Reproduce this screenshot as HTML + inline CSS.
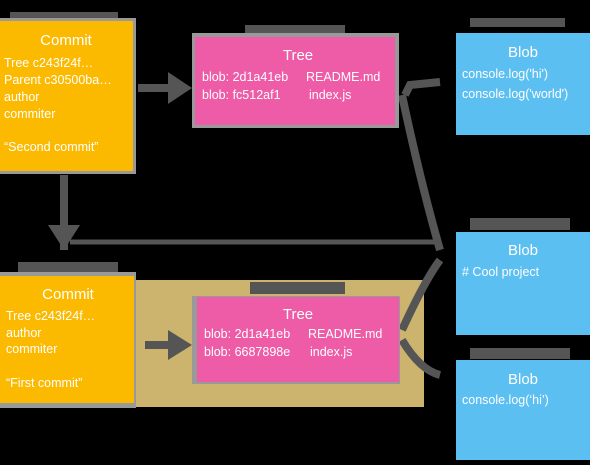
<!DOCTYPE html>
<html><head><meta charset="utf-8"><style>
body{margin:0;background:#000;width:590px;height:460px;overflow:hidden}
svg text{font-family:"Liberation Sans",sans-serif;fill:#fff}
</style></head><body>
<svg width="590" height="460">
<rect x="135" y="280" width="289" height="127" fill="#CDB46E"/>
<g fill="#555">
<rect x="10" y="12" width="108" height="9"/><rect x="245" y="25" width="100" height="8"/>
<rect x="470" y="18" width="95" height="9"/><rect x="470" y="218" width="100" height="12"/>
<rect x="18" y="262" width="100" height="12"/><rect x="250" y="282" width="95" height="12"/>
<rect x="470" y="348" width="100" height="11"/>
</g>
<g stroke="#555" stroke-width="8" fill="none">
<line x1="138" y1="88" x2="175" y2="88"/><line x1="64" y1="175" x2="64" y2="250"/>
<line x1="145" y1="345" x2="178" y2="345"/>
<path d="M405,95 L410,85 L440,82"/>
<path d="M402,95 Q420,180 440,250"/>
<path d="M402,330 Q425,280 440,260"/>
<path d="M402,340 Q420,370 440,375"/>
<line x1="70" y1="242" x2="440" y2="242" stroke-width="5"/>
</g>
<g fill="#555"><polygon points="168,72 192,88 168,104"/><polygon points="48,225 80,225 64,250"/><polygon points="168,330 192,345 168,360"/></g>
<g>
<rect x="0" y="18" width="136" height="156" fill="#999"/><rect x="0" y="21" width="133" height="150" fill="#FBB900"/>
<text x="66" y="45" font-size="15" text-anchor="middle">Commit</text>
<text x="4" y="67" font-size="12.5">Tree c243f24f…</text><text x="4" y="84" font-size="12.5">Parent c30500ba…</text>
<text x="4" y="101" font-size="12.5">author</text><text x="4" y="118" font-size="12.5">commiter</text>
<text x="4" y="151" font-size="12.5">“Second commit”</text></g>
<g>
<rect x="192" y="33" width="207" height="95" fill="#999"/><rect x="195" y="37" width="200" height="88" fill="#EE5BA6"/>
<text x="298" y="60" font-size="15" text-anchor="middle">Tree</text>
<text x="202" y="81" font-size="12.5">blob: 2d1a41eb</text><text x="306" y="81" font-size="12.5">README.md</text>
<text x="202" y="99" font-size="12.5">blob: fc512af1</text><text x="309" y="99" font-size="12.5">index.js</text></g>
<g>
<rect x="456" y="33" width="134" height="102" fill="#5BBFF2"/>
<text x="523" y="57" font-size="15" text-anchor="middle">Blob</text>
<text x="462" y="78" font-size="12.5">console.log('hi')</text><text x="462" y="98" font-size="12.5">console.log('world')</text></g>
<g>
<rect x="456" y="232" width="134" height="103" fill="#5BBFF2"/>
<text x="523" y="255" font-size="15" text-anchor="middle">Blob</text>
<text x="462" y="276" font-size="12.5"># Cool project</text></g>
<g>
<rect x="456" y="360" width="134" height="100" fill="#5BBFF2"/>
<text x="523" y="384" font-size="15" text-anchor="middle">Blob</text>
<text x="462" y="404" font-size="12.5">console.log(‘hi’)</text></g>
<g>
<rect x="0" y="272" width="136" height="136" fill="#999"/><rect x="0" y="276" width="134" height="127" fill="#FBB900"/>
<text x="68" y="299" font-size="15" text-anchor="middle">Commit</text>
<text x="6" y="320" font-size="12.5">Tree c243f24f…</text><text x="6" y="337" font-size="12.5">author</text>
<text x="6" y="353" font-size="12.5">commiter</text><text x="6" y="387" font-size="12.5">“First commit”</text></g>
<g>
<rect x="192" y="296" width="208" height="88" fill="#999"/><rect x="197" y="297" width="202" height="85" fill="#EE5BA6"/>
<text x="298" y="319" font-size="15" text-anchor="middle">Tree</text>
<text x="204" y="338" font-size="12.5">blob: 2d1a41eb</text><text x="308" y="338" font-size="12.5">README.md</text>
<text x="204" y="356" font-size="12.5">blob: 6687898e</text><text x="310" y="356" font-size="12.5">index.js</text></g>
</svg>
</body></html>
